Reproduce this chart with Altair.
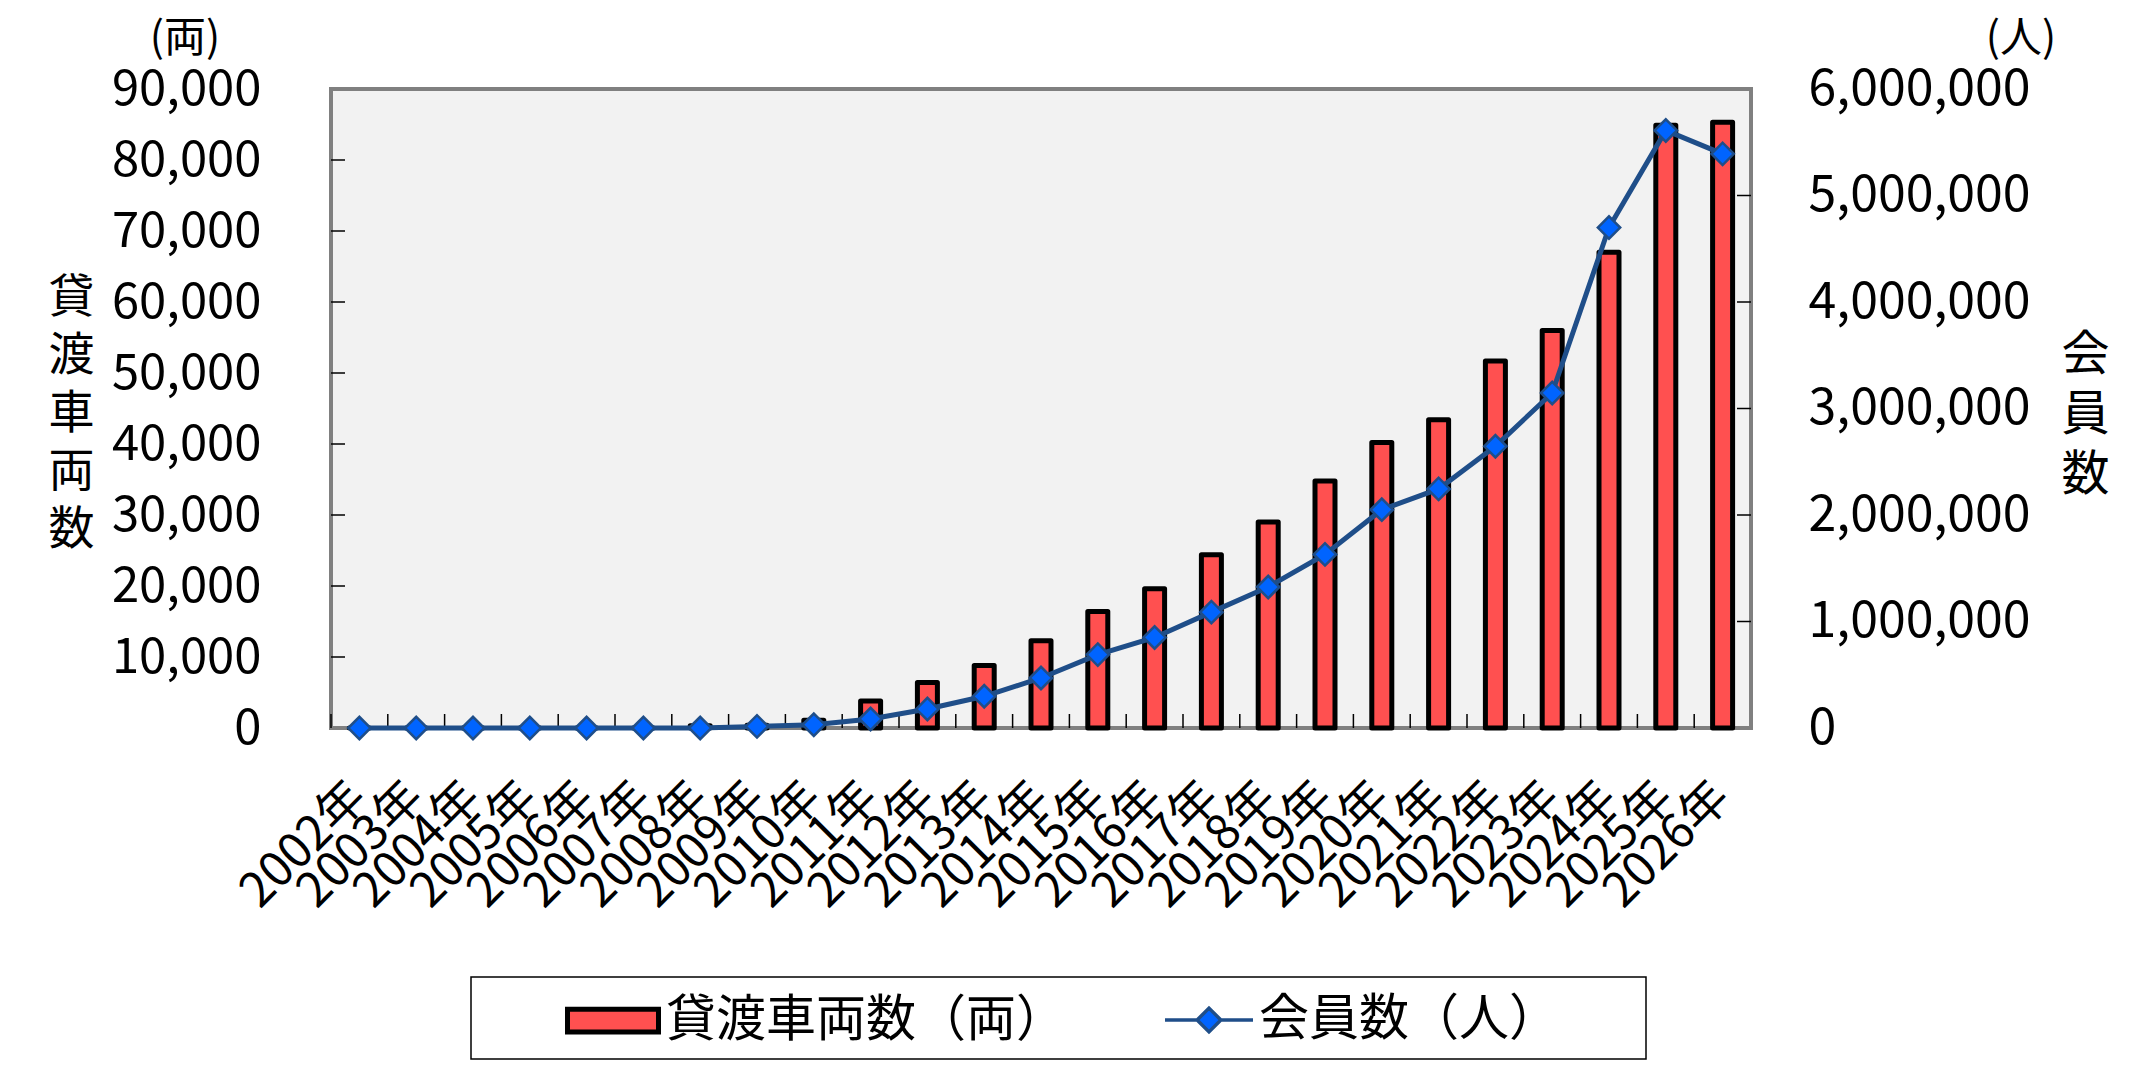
import altair as alt
import pandas as pd

years = [f"{y}年" for y in range(2002, 2027)]
rentals = [0, 0, 0, 0, 0, 0, 300, 400, 1100, 3800, 6400, 8800, 12300, 16400,
           19600, 24400, 29000, 34800, 40200, 43400, 51700, 56000, 67000, 84900, 85300]
members = [0, 0, 0, 0, 0, 0, 0, 15000, 31000, 85000, 178000, 298000, 470000, 689000,
           850000, 1088000, 1324000, 1630000, 2050000, 2245000, 2645000, 3146000,
           4699000, 5611000, 5391000]
left_ticks = [10000 * i for i in range(1, 9)]
right_ticks = [1000000 * i for i in range(1, 6)]

bar_name = "貸渡車両数（両）"
line_name = "会員数（人）"

W, H = 1420, 639
JP = "Noto Sans CJK JP"

df = pd.DataFrame({"year": years, "rentals": rentals, "members": members})
lt = pd.DataFrame({"rentals": left_ticks})
rt = pd.DataFrame({"members": right_ticks})

x_axis = alt.Axis(title=None, labelAngle=315, labelAlign="right", labelBaseline="middle",
                  labelFont=JP, labelFontSize=48, labelColor="black", labelPadding=62,
                  ticks=False, domain=False, grid=False, labelOverlap=False, labelLimit=400)
x_enc = alt.X("year:N", sort=years, scale=alt.Scale(paddingInner=0, paddingOuter=0), axis=x_axis)

left_scale = alt.Scale(domain=[0, 90000], nice=False)
left_axis = alt.Axis(title=["貸", "渡", "車", "両", "数"], titleAngle=0, titleAlign="center",
                     titleBaseline="top", titleX=-260, titleY=186, titleFont=JP,
                     titleFontSize=46, titleFontWeight="normal", titleLineHeight=58,
                     titleColor="black", values=[10000 * i for i in range(10)],
                     format=",d", labelFont=JP, labelFontSize=49, labelColor="black",
                     labelPadding=70, labelLimit=400, ticks=False, domain=False, grid=False)
right_scale = alt.Scale(domain=[0, 6000000], nice=False)
right_axis = alt.Axis(orient="right", title=["会", "員", "数"], titleAngle=0, titleAlign="center",
                      titleBaseline="top", titleX=334, titleY=242, titleFont=JP,
                      titleFontSize=48, titleFontWeight="normal", titleLineHeight=60,
                      titleColor="black", values=[1000000 * i for i in range(7)],
                      format=",d", labelFont=JP, labelFontSize=50, labelColor="black",
                      labelPadding=57, labelAlign="left", labelLimit=400,
                      ticks=False, domain=False, grid=False)

bar_path = "M-1,-0.25H1V0.25H-1Z"
line_path = "M-1,0H-0.27M0.27,0H1M0,-0.27L0.27,0L0,0.27L-0.27,0Z"

one = pd.DataFrame({"a": [0]})
plot_frame = alt.Chart(one).mark_rect(fill="#f2f2f2", stroke="#808080", strokeWidth=4).encode(
    x=alt.value(0), x2=alt.value(W), y=alt.value(0), y2=alt.value(H)
)

bars = alt.Chart(df).transform_calculate(s1=f"'{bar_name}'").mark_bar(
    width=20, stroke="black", strokeWidth=5, strokeJoin="round"
).encode(
    x=x_enc,
    y=alt.Y("rentals:Q", scale=left_scale, axis=left_axis),
    fill=alt.Fill("s1:N", scale=alt.Scale(domain=[bar_name], range=["#ff5050"]),
                  legend=alt.Legend(title=None, orient="none", legendX=234, legendY=883.5,
                                    symbolType=bar_path, symbolSize=8281,
                                    symbolStrokeColor="black", symbolStrokeWidth=5,
                                    labelFont=JP, labelFontSize=50, labelColor="black",
                                    labelOffset=5, labelLimit=600, padding=0)),
)

lticks = alt.Chart(lt).mark_rule(color="black", strokeWidth=1.5).encode(
    y=alt.Y("rentals:Q", scale=left_scale, axis=left_axis),
    x=alt.value(0), x2=alt.value(14),
)

xticks = alt.Chart(df).mark_rule(color="black", strokeWidth=1.5).encode(
    x=alt.X("year:N", sort=years, bandPosition=0, scale=alt.Scale(paddingInner=0, paddingOuter=0), axis=x_axis),
    y=alt.value(H), y2=alt.value(H - 14),
)

line = alt.Chart(df).transform_calculate(s2=f"'{line_name}'").mark_line(
    strokeWidth=5,
    point=alt.OverlayMarkDef(shape="diamond", size=500, filled=True, fill="#0064ff",
                             stroke="#1f4e89", strokeWidth=2.5),
).encode(
    x=x_enc,
    y=alt.Y("members:Q", scale=right_scale, axis=right_axis),
    stroke=alt.Stroke("s2:N", scale=alt.Scale(domain=[line_name], range=["#1f4e89"]),
                      legend=alt.Legend(title=None, orient="none", legendX=832, legendY=885,
                                        symbolType=line_path, symbolSize=7744,
                                        symbolFillColor="#0064ff", symbolStrokeWidth=3.5,
                                        labelFont=JP, labelFontSize=50, labelColor="black",
                                        labelOffset=4, labelLimit=600, padding=0)),
)

rticks = alt.Chart(rt).mark_rule(color="black", strokeWidth=1.5).encode(
    y=alt.Y("members:Q", scale=right_scale, axis=right_axis),
    x=alt.value(W), x2=alt.value(W - 14),
)

frame = alt.Chart(one).mark_rect(fill="transparent", stroke="black", strokeWidth=1.5).encode(
    x=alt.value(140), x2=alt.value(1315), y=alt.value(888), y2=alt.value(970)
)
unit_left = alt.Chart(one).mark_text(font=JP, fontSize=42, color="black").encode(
    x=alt.value(-146), y=alt.value(-50), text=alt.value("(両)")
)
unit_right = alt.Chart(one).mark_text(font=JP, fontSize=42, color="black").encode(
    x=alt.value(1690), y=alt.value(-50), text=alt.value("(人)")
)

left_group = alt.layer(plot_frame, bars, lticks, xticks)
right_group = alt.layer(line, rticks)

chart = alt.layer(left_group, right_group, frame, unit_left, unit_right).resolve_scale(
    y="independent"
).properties(
    width=W, height=H, autosize="none",
    padding={"left": 323, "top": 81, "right": 380, "bottom": 345},
).configure_view(
    fill="#f2f2f2", stroke="#808080", strokeWidth=3
).configure(background="white")

chart.save("out.html", embed_options={"renderer": "svg", "actions": False})
